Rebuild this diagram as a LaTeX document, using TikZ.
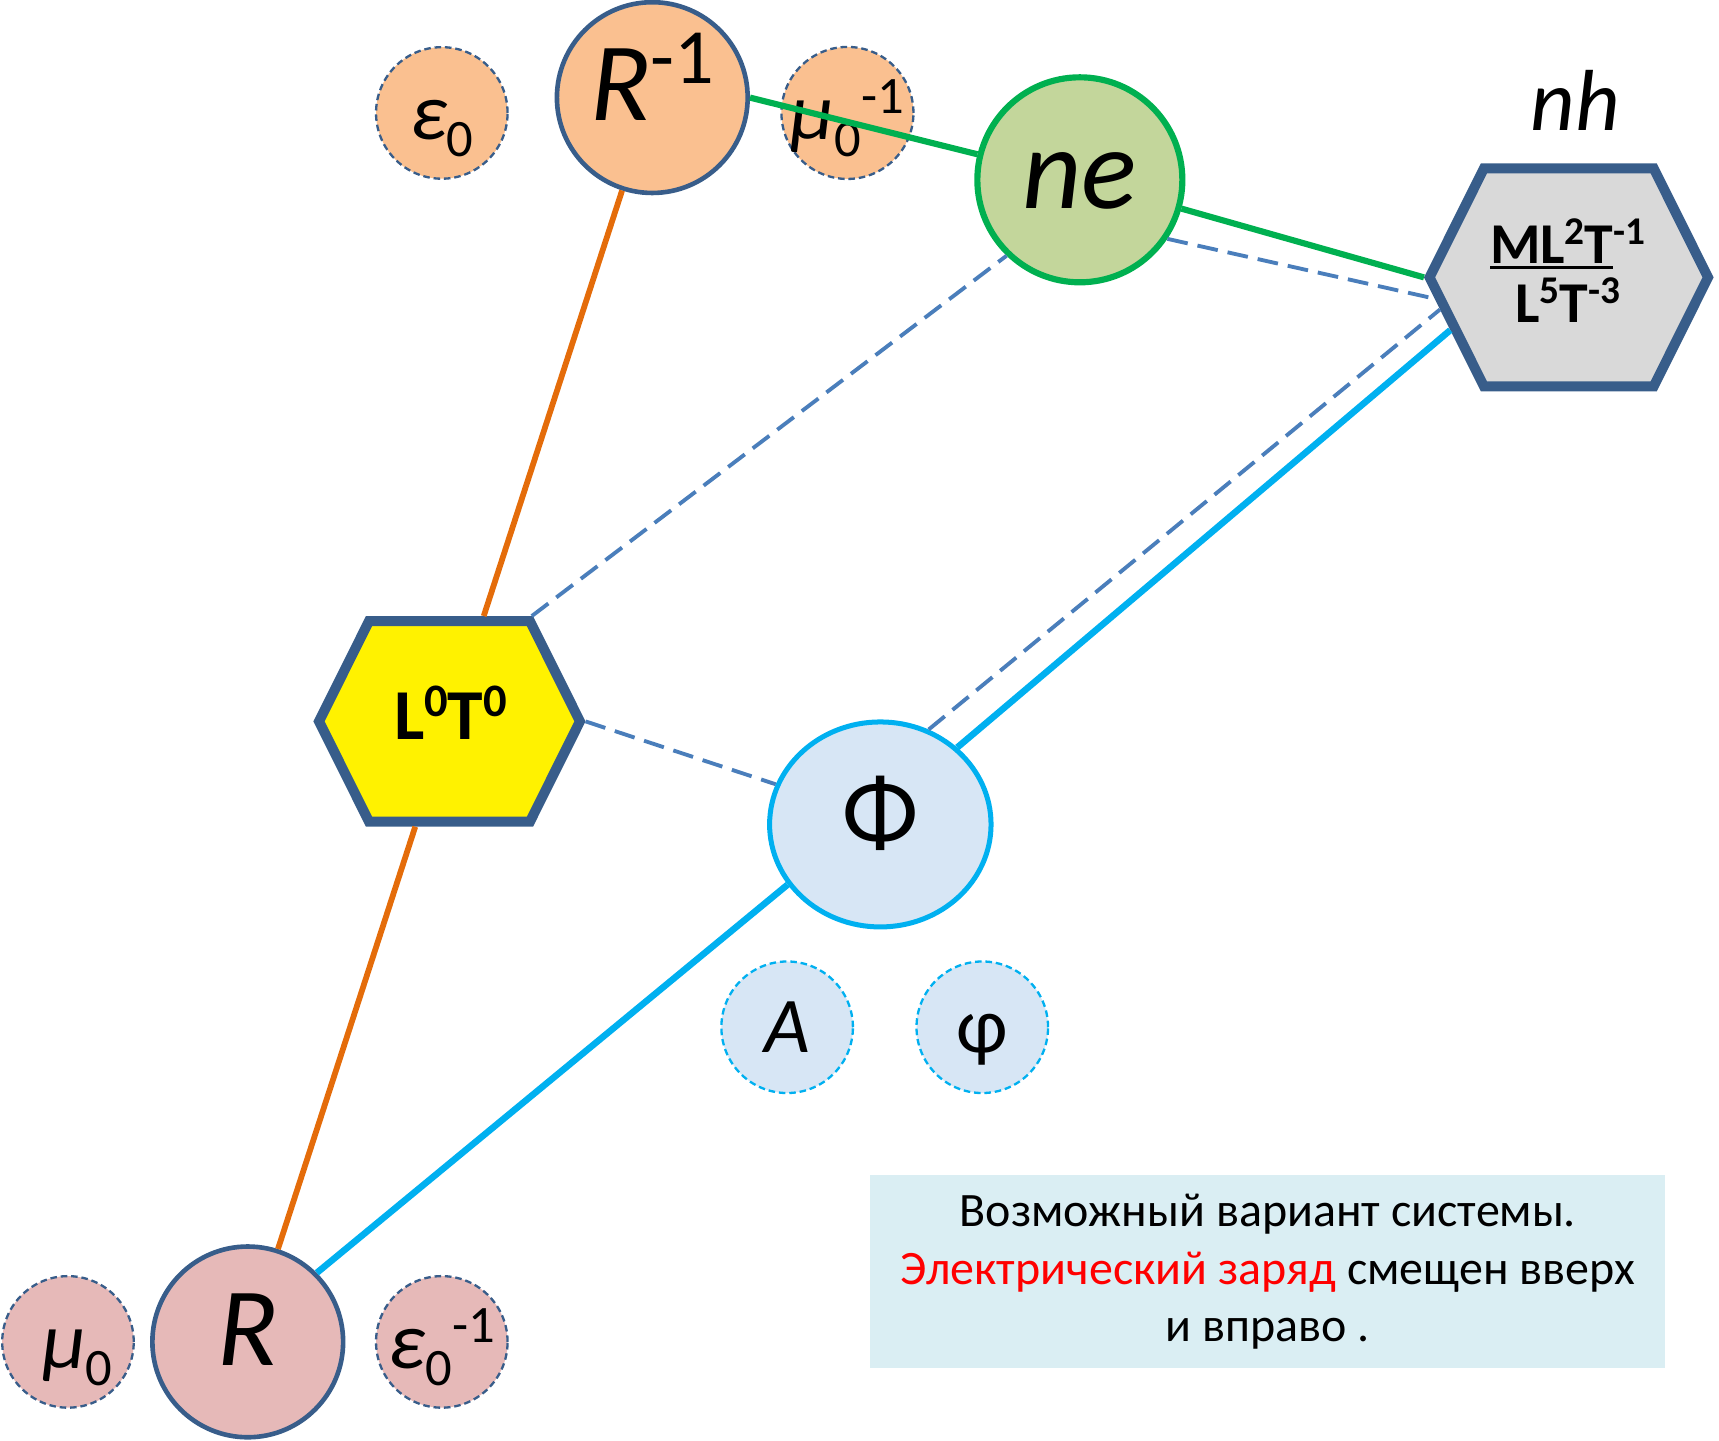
\documentclass[tikz,border=0pt]{standalone}
\usepackage{fontspec}
\setmainfont{Carlito}
\usepackage{graphicx}
\usetikzlibrary{shapes.geometric,shapes.symbols,positioning}

\definecolor{frame}{HTML}{385D8A}
\definecolor{dashblue}{HTML}{4A7EBB}
\definecolor{peach}{HTML}{FAC090}
\definecolor{rose}{HTML}{E6B9B8}
\definecolor{sky}{HTML}{D7E6F5}
\definecolor{leaf}{HTML}{C3D69B}
\definecolor{hexgray}{HTML}{D9D9D9}
\definecolor{note}{HTML}{DAEEF3}
\definecolor{edgegreen}{HTML}{00B050}
\definecolor{edgeblue}{HTML}{00B0F0}
\definecolor{edgeorange}{HTML}{E46C0A}

% raised and lowered indices
\newcommand\upx[2][0.68]{\raisebox{0.33em}{\scalebox{#1}{\upshape #2}}}
\newcommand\dnx[2][0.65]{\raisebox{-0.2em}{\scalebox{#1}{\upshape #2}}}
% underline sitting close to the baseline
\newcommand\barunder[1]{\setbox0\hbox{#1}\rlap{\rule[-1.4pt]{\wd0}{0.85pt}}\box0}

\tikzset{
  bigdisc/.style = {draw=frame, line width=1.2pt, circle, inner sep=0pt, minimum size=1.74cm,
    text height=22pt, text depth=10pt, font=\fontsize{29}{30}\selectfont},
  satdisc/.style = {draw=frame, line width=0.6pt, dash pattern=on 1.7pt off 1pt, circle,
    inner sep=0pt, minimum size=1.2cm, text height=16pt, text depth=2pt,
    font=\fontsize{21}{22}\selectfont},
  hexa/.style = {draw=frame, line width=2.6pt, signal, signal to=east and west,
    signal pointer angle=127, inner sep=0pt},
  hextext/.style = {inner sep=0pt, align=center},
  link/.style = {line width=1.6pt},
  faint/.style = {dashblue, line width=1pt, dash pattern=on 5.4pt off 2.6pt},
}

\begin{document}
\begin{tikzpicture}[x=0.1mm, y=-0.1mm]
  \useasboundingbox (0,0) rectangle (1568,1314);

  % constants around the main discs
  \node[satdisc, fill=peach] (eps0) at (403,103) {\itshape ε\dnx{0}};
  \node[satdisc, fill=peach] (mu0inv) at (773,103) {\itshape μ\dnx{0}\upx[0.65]{-1}};
  \node[satdisc, fill=rose] (mu0) at (62,1224) {\itshape\ μ\dnx{0}};
  \node[satdisc, fill=rose] (eps0inv) at (403,1224) {\itshape ε\dnx{0}\upx[0.65]{-1}};
  \node[satdisc, fill=sky, draw=edgeblue, text depth=3pt, font=\fontsize{20.5}{22}\selectfont] (A) at (718,937) {\itshape A};
  \node[satdisc, fill=sky, draw=edgeblue, text depth=3pt, font=\fontsize{20.5}{22}\selectfont] (phi) at (896,937) {φ};

  % main discs and hexagons
  \node[bigdisc, fill=peach] (Rinv) at (595,89) {\itshape R\upx[0.7]{-1}};
  \node[bigdisc, fill=leaf, draw=edgegreen, line width=1.6pt, minimum size=1.87cm,
    text depth=7pt, font=\fontsize{30}{32}\selectfont] (ne) at (985,164) {\itshape ne};
  \node[bigdisc, ellipse, fill=sky, draw=edgeblue, line width=1.3pt, minimum width=2.02cm,
    minimum height=1.87cm, text depth=11pt, font=\fontsize{26}{28}\selectfont] (Phi) at (803,752) {Φ};
  \node[bigdisc, fill=rose] (R) at (226,1224) {\itshape R};

  \node[hexa, fill=yellow, minimum width=2.38cm, minimum height=1.83cm] (lt) at (410,658) {};
  \node[hextext, font=\bfseries\fontsize{18.6}{20}\selectfont] (lt-text) at (411,650) {L\upx[0.65]{0}T\upx[0.65]{0}};

  \node[hexa, fill=hexgray, minimum width=2.54cm, minimum height=1.99cm] (nh) at (1431,253) {};
  \node[hextext, font=\bfseries\fontsize{15}{15.4}\selectfont] (nh-frac) at (1430,247)
    {\barunder{ML\upx{2}T}\upx{-1}\\ L\upx{5}T\upx{-3}};
  \node[inner sep=0pt, font=\itshape\fontsize{22.5}{24}\selectfont] (nh-label) at (1437,92) {nh};

  % connections
  \draw[link, edgeorange, line width=1.5pt] (Rinv) -- (lt);
  \draw[link, edgeorange, line width=1.5pt] (lt) -- (R);
  \draw[link, edgegreen] (Rinv.east) -- (ne) -- (nh.west);
  \draw[link, edgeblue, line width=1.7pt] (R.45) -- (Phi.213) (Phi.45) -- (nh.204);

  \draw[faint] (lt.52) -- (ne.226);
  \draw[faint] (lt.east) -- (Phi.159);
  \draw[faint] (ne.-34) -- (nh.189);
  \draw[faint] (Phi.63) -- (nh.194);

  % remark
  \node[fill=note, minimum width=7.25cm, minimum height=1.76cm, align=center,
    font=\fontsize{12.45}{14.9}\selectfont] (remark) at (1156.5,1160)
    {Возможный вариант системы.\\ \textcolor{red}{Электрический заряд} смещен вверх\\ и вправо .};
\end{tikzpicture}
\end{document}
